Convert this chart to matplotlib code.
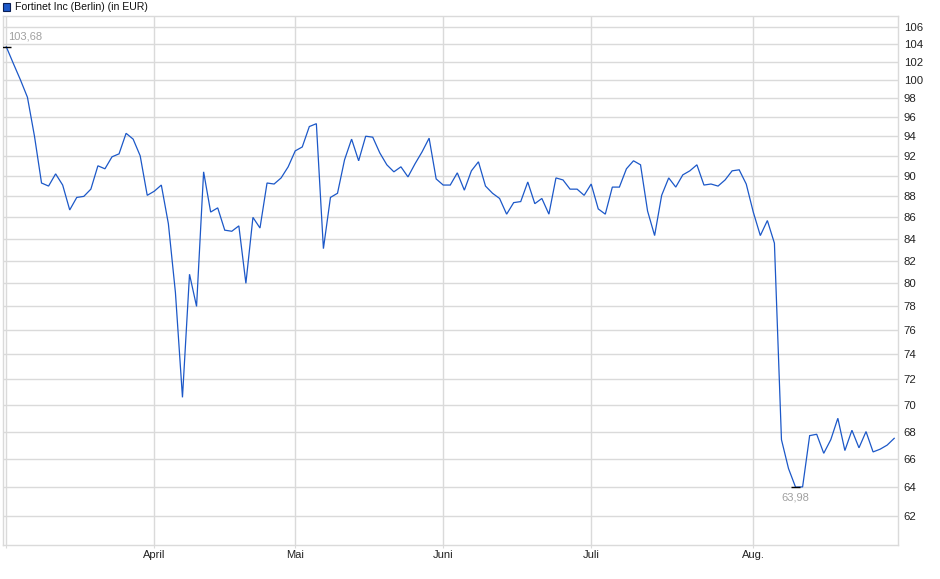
import matplotlib
matplotlib.use("Agg")
import matplotlib.pyplot as plt
from matplotlib.ticker import FixedLocator, NullLocator, FuncFormatter
from matplotlib.patches import Rectangle

plt.rcParams['font.family'] = ['Liberation Sans', 'DejaVu Sans']

# ---- data (Fortinet Inc, Berlin, EUR, daily closes, trading-day index) ----
prices = [
    103.68, 101.8, 100.0, 98.1, 94.0, 89.3, 89.0, 90.2, 89.1, 86.7,
    87.9, 88.0, 88.7, 91.0, 90.7, 91.9, 92.2, 94.3, 93.7, 92.0,
    88.1, 88.5, 89.1, 85.4, 79.2, 70.6, 80.8, 78.0, 90.4, 86.5,
    86.9, 84.8, 84.7, 85.2, 80.0, 86.0, 85.0, 89.3, 89.2, 89.8,
    90.9, 92.5, 92.9, 95.0, 95.3, 83.1, 87.9, 88.3, 91.6, 93.7,
    91.5, 94.0, 93.9, 92.3, 91.1, 90.4, 90.9, 89.9, 91.2, 92.4,
    93.8, 89.7, 89.1, 89.1, 90.3, 88.6, 90.5, 91.4, 89.0, 88.3,
    87.8, 86.3, 87.4, 87.5, 89.4, 87.3, 87.8, 86.3, 89.8, 89.6,
    88.7, 88.7, 88.1, 89.2, 86.8, 86.3, 88.9, 88.9, 90.7, 91.5,
    91.1, 86.6, 84.3, 88.1, 89.8, 88.9, 90.1, 90.5, 91.1, 89.1,
    89.2, 89.0, 89.6, 90.5, 90.6, 89.2, 86.5, 84.3, 85.7, 83.6,
    67.4, 65.3, 63.98, 64.0, 67.7, 67.8, 66.4, 67.4, 69.0, 66.6,
    68.1, 66.8, 68.0, 66.5, 66.7, 67.0, 67.5,
]
month_labels = ["April", "Mai", "Juni", "Juli", "Aug."]
month_first_day = [21, 41, 62, 83, 106]   # trading-day index of each month's first session
y_ticks = list(range(62, 107, 2))
title = "Fortinet Inc (Berlin) (in EUR)"

LINE = '#1c58c8'
GRID = '#dadada'

W, H = 940, 579
fig = plt.figure(figsize=(W / 100, H / 100), dpi=100)
ax = fig.add_axes([2.7 / W, 34 / H, (898.3 - 2.7) / W, (545 - 16) / H])

x = list(range(len(prices)))
ax.plot(x, prices, color=LINE, lw=0.9, solid_joinstyle='miter', zorder=3)

ax.set_yscale('log')
ax.set_ylim(60.05, 107.24)
ax.set_xlim(-0.51, 126.58)

ax.yaxis.set_major_locator(FixedLocator(y_ticks))
ax.yaxis.set_minor_locator(NullLocator())
ax.yaxis.set_major_formatter(FuncFormatter(lambda v, p: f"{v:.0f}"))
ax.yaxis.tick_right()
ax.tick_params(axis='y', which='both', length=0, pad=4.0, labelsize=8.2, labelcolor='#222222')

ax.xaxis.set_major_locator(FixedLocator([0] + month_first_day))
ax.set_xticklabels([""] + month_labels)
ax.tick_params(axis='x', length=2, color=GRID, pad=1.5, labelsize=8.0, labelcolor='#222222')

ax.grid(True, which='major', color=GRID, lw=1.0, zorder=0)
for s in ax.spines.values():
    s.set_color(GRID)
    s.set_linewidth(1.0)

# high / low annotations
imax = max(range(len(prices)), key=lambda i: prices[i])
imin = min(range(len(prices)), key=lambda i: prices[i])
ax.hlines(prices[imax], imax - 0.55, imax + 0.7, color='black', lw=1.0, zorder=4)
ax.hlines(prices[imin], imin - 0.65, imin + 0.65, color='black', lw=1.0, zorder=4)
fmt = lambda v: f"{v:.2f}".replace('.', ',')
ax.annotate(fmt(prices[imax]), (imax, prices[imax]), xytext=(1.2, 3.5), textcoords='offset points',
            ha='left', va='bottom', fontsize=8.0, color='#a0a0a0')
ax.annotate(fmt(prices[imin]), (imin, prices[imin]), xytext=(0, -3.5), textcoords='offset points',
            ha='center', va='top', fontsize=8.0, color='#a0a0a0')

# legend-like title
fig.patches.append(Rectangle((3.3 / W, 1 - 10.5 / H), 7 / W, 7 / H, transform=fig.transFigure,
                             facecolor=LINE, edgecolor='#0a1f55', lw=0.8))
fig.text(15 / W, 1 - 7 / H, title, ha='left', va='center', fontsize=7.6, color='#111111')

fig.savefig('out.png', dpi=100)
